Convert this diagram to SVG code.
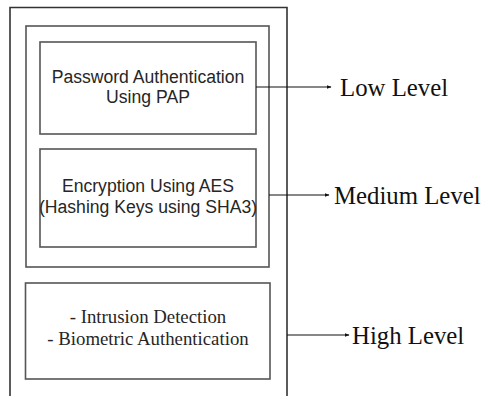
<svg xmlns="http://www.w3.org/2000/svg" width="481" height="396" viewBox="0 0 481 396">
  <style>
    .frame { fill: none; stroke: #555555; stroke-width: 1.6; }
    .outer { fill: none; stroke: #333333; stroke-width: 1.6; }
    .sans { font-family: "Liberation Sans", Arial, sans-serif; font-size: 17.6px; fill: #262626; text-anchor: middle; }
    .serif { font-family: "Liberation Serif", "Times New Roman", serif; font-size: 18.8px; fill: #262626; text-anchor: middle; }
    .level { font-family: "Liberation Serif", "Times New Roman", serif; font-size: 24.8px; fill: #111111; }
    .conn { stroke: #111111; stroke-width: 1.2; fill: none; marker-end: url(#head); }
  </style>
  <defs>
    <marker id="head" viewBox="0 0 10 10" refX="9" refY="5" markerWidth="5" markerHeight="5" orient="auto" markerUnits="userSpaceOnUse">
      <path d="M0,1 L10,5 L0,9 Z" fill="#111111"/>
    </marker>
  </defs>
  <rect width="481" height="396" fill="#ffffff"/>

  <!-- open-bottom outer frame -->
  <g id="outer-frame">
    <path class="outer" d="M10,396 V7.5 H287 V396"/>
  </g>

  <g id="inner-group">
    <rect class="frame" x="26" y="26" width="243" height="241"/>
  </g>

  <g id="pap">
    <rect class="frame" x="40" y="42" width="216" height="92"/>
    <text class="sans" x="148" y="83">Password Authentication</text>
    <text class="sans" x="148" y="103">Using PAP</text>
  </g>

  <g id="aes">
    <rect class="frame" x="40" y="149" width="216" height="98"/>
    <text class="sans" x="148" y="192">Encryption Using AES</text>
    <text class="sans" x="148" y="213">(Hashing Keys using SHA3)</text>
  </g>

  <g id="detection">
    <rect class="frame" x="25.5" y="283" width="244.5" height="96"/>
    <text class="serif" x="148" y="323">- Intrusion Detection</text>
    <text class="serif" x="148" y="345">- Biometric Authentication</text>
  </g>

  <g id="connectors">
    <line class="conn" x1="256" y1="87" x2="331" y2="87"/>
    <line class="conn" x1="269" y1="195" x2="329" y2="195"/>
    <line class="conn" x1="287" y1="335" x2="349" y2="335"/>
  </g>

  <g id="levels">
    <text class="level" x="340" y="96">Low Level</text>
    <text class="level" x="334" y="204">Medium Level</text>
    <text class="level" x="352" y="344">High Level</text>
  </g>
</svg>
